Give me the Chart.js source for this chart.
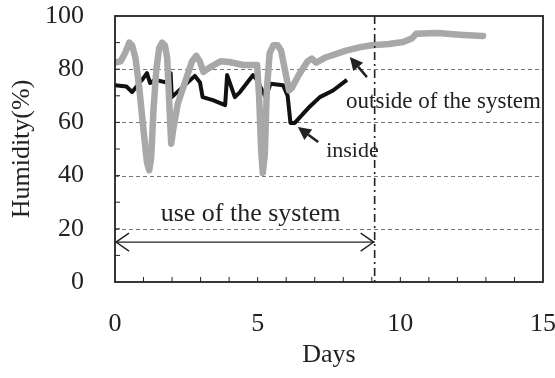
<!DOCTYPE html>
<html lang="en">
<head>
  <meta charset="UTF-8" />
  <title>Humidity</title>
  <script src="https://cdn.jsdelivr.net/npm/chart.js"></script>
  <style>
    html, body { margin: 0; padding: 0; background: #fff; }
  </style>
</head>
<body>
  <canvas id="humChart" width="555" height="378"></canvas>
  <script>
    // outside of the system (grey trace)
    const outsideDays = [0, 0.2, 0.35, 0.5, 0.6, 0.72, 0.85, 1.0, 1.12, 1.2, 1.27, 1.35, 1.45, 1.55, 1.65, 1.75,
      1.83, 1.9, 1.97, 2.05, 2.2, 2.45, 2.7, 2.85, 2.97, 3.1, 3.3, 3.7, 4.0, 4.5, 4.98, 5.05, 5.12, 5.18, 5.25,
      5.32, 5.42, 5.55, 5.7, 5.82, 5.95, 6.1, 6.2, 6.45, 6.75, 6.9, 7.05, 7.4, 8.1, 8.6, 9.0, 9.6, 10.1, 10.4,
      10.55, 11.3, 12.2, 12.9];
    const outsideHumidity = [82.5, 83, 86, 90, 89, 84, 73, 57, 45, 42, 47, 65, 80, 88, 90, 89,
      84, 68, 52, 58, 67, 75, 83, 85, 83, 79, 80.5, 83, 82.7, 81.6, 81.6, 70, 50, 41, 48,
      72, 86, 89, 89, 87, 80, 72, 73, 78, 83, 84, 82.5, 84.5, 87, 88.3, 89, 89.5, 90.2, 91.5,
      93.3, 93.6, 92.9, 92.5];

    // inside (black trace)
    const insideDays = [0, 0.4, 0.6, 0.95, 1.12, 1.23, 1.4, 1.89, 1.95, 1.99, 2.8, 2.98, 3.07, 3.43, 3.86, 3.93,
      4.2, 4.38, 4.84, 4.97, 5.28, 5.45, 5.89, 6.05, 6.15, 6.3, 6.83, 7.18, 7.64, 8.13];
    const insideHumidity = [74, 73.5, 71.4, 76, 78.5, 74.8, 76, 74.8, 78.5, 69.5, 77.5, 75, 69.5, 68.4, 66.5, 77.8,
      69.5, 71.4, 77.8, 76, 69.5, 74.5, 74, 70, 59.8, 59.8, 66, 69.5, 72, 76];

    const xTicks = [0, 5, 10, 15];
    const yTicks = [0, 20, 40, 60, 80, 100];
    const gridLevels = [20, 40, 60, 80];
    const systemEndDay = 9.1;
    const arrowLevel = 15;

    const toPoints = (xs, ys) => xs.map((x, i) => ({ x: x, y: ys[i] }));
    const serif = '"Liberation Serif", "DejaVu Serif", serif';

    function line(ctx, x1, y1, x2, y2) {
      ctx.beginPath();
      ctx.moveTo(x1, y1);
      ctx.lineTo(x2, y2);
      ctx.stroke();
    }

    function pointer(ctx, fx, fy, tx, ty) {
      // line with a filled triangular head at (tx, ty)
      const ang = Math.atan2(ty - fy, tx - fx);
      const len = 13, half = 6.5;
      const bx = tx - len * Math.cos(ang), by = ty - len * Math.sin(ang);
      ctx.lineWidth = 2.5;
      line(ctx, fx, fy, bx, by);
      ctx.beginPath();
      ctx.moveTo(tx, ty);
      ctx.lineTo(bx + half * Math.sin(ang), by - half * Math.cos(ang));
      ctx.lineTo(bx - half * Math.sin(ang), by + half * Math.cos(ang));
      ctx.closePath();
      ctx.fill();
    }

    const background = {
      id: 'background',
      beforeDatasetsDraw(chart) {
        const { ctx, chartArea: a, scales: { y } } = chart;
        ctx.save();
        ctx.strokeStyle = '#777';
        ctx.lineWidth = 1;
        ctx.setLineDash([4, 3]);
        gridLevels.forEach(v => {
          const py = Math.round(y.getPixelForValue(v)) + 0.5;
          line(ctx, a.left, py, a.right, py);
        });
        ctx.restore();
      }
    };

    const decorations = {
      id: 'decorations',
      afterDatasetsDraw(chart) {
        const { ctx, chartArea: a, scales: { x, y } } = chart;
        ctx.save();
        ctx.strokeStyle = '#222';
        ctx.fillStyle = '#222';

        // frame
        ctx.lineWidth = 1.8;
        ctx.strokeRect(a.left, a.top, a.right - a.left, a.bottom - a.top);

        // inward minor ticks
        ctx.lineWidth = 1;
        for (let d = 1; d < 15; d++) {
          const px = x.getPixelForValue(d);
          line(ctx, px, a.bottom, px, a.bottom - 5);
        }
        for (let v = 10; v < 100; v += 10) {
          const py = y.getPixelForValue(v);
          line(ctx, a.left, py, a.left + 5, py);
        }

        // end of system use (dash-dot)
        const ex = x.getPixelForValue(systemEndDay);
        ctx.lineWidth = 1.6;
        ctx.setLineDash([8, 4, 2, 4]);
        line(ctx, ex, a.top, ex, a.bottom);
        ctx.setLineDash([]);

        // double arrow for "use of the system"
        const ay = y.getPixelForValue(arrowLevel);
        const sx = x.getPixelForValue(0);
        ctx.lineWidth = 1.4;
        line(ctx, sx, ay, ex, ay);
        ctx.beginPath();
        ctx.moveTo(sx + 14, ay - 9); ctx.lineTo(sx + 1, ay); ctx.lineTo(sx + 14, ay + 9);
        ctx.moveTo(ex - 14, ay - 9); ctx.lineTo(ex - 1, ay); ctx.lineTo(ex - 14, ay + 9);
        ctx.stroke();

        // pointers
        pointer(ctx, x.getPixelForValue(8.83), y.getPixelForValue(77), x.getPixelForValue(8.23), y.getPixelForValue(84.6));
        pointer(ctx, x.getPixelForValue(7.12), y.getPixelForValue(52.6), x.getPixelForValue(6.41), y.getPixelForValue(58.3));

        // labels
        ctx.textBaseline = 'alphabetic';
        ctx.textAlign = 'left';
        ctx.font = '23px ' + serif;
        ctx.fillText('outside of the system', x.getPixelForValue(8.1), y.getPixelForValue(65.5));
        ctx.font = '22px ' + serif;
        ctx.fillText('inside', x.getPixelForValue(7.4), y.getPixelForValue(47));
        ctx.textAlign = 'center';
        ctx.font = '26px ' + serif;
        ctx.fillText('use of the system', x.getPixelForValue(4.75), y.getPixelForValue(23));
        ctx.restore();
      }
    };

    new Chart(document.getElementById('humChart'), {
      type: 'line',
      data: {
        datasets: [
          {
            label: 'outside of the system',
            data: toPoints(outsideDays, outsideHumidity),
            borderColor: '#a8a8a8',
            borderWidth: 6.5,
            borderJoinStyle: 'round',
            borderCapStyle: 'round',
            pointRadius: 0,
            tension: 0
          },
          {
            label: 'inside',
            data: toPoints(insideDays, insideHumidity),
            borderColor: '#111',
            borderWidth: 4,
            borderJoinStyle: 'round',
            pointRadius: 0,
            tension: 0
          }
        ]
      },
      options: {
        responsive: false,
        animation: false,
        layout: { padding: { top: 16, right: 12, left: 0, bottom: 0 } },
        plugins: {
          legend: { display: false },
          tooltip: { enabled: false }
        },
        scales: {
          x: {
            type: 'linear',
            min: 0,
            max: 15,
            afterBuildTicks: s => { s.ticks = xTicks.map(v => ({ value: v })); },
            afterFit: s => { s.height = 96; s.paddingLeft = 0; s.paddingRight = 0; },
            grid: { display: false },
            border: { display: false },
            ticks: { padding: 19, color: '#222', font: { family: serif, size: 26 } },
            title: { display: true, text: 'Days', color: '#222', padding: 7, font: { family: serif, size: 26 } }
          },
          y: {
            min: 0,
            max: 100,
            afterBuildTicks: s => { s.ticks = yTicks.map(v => ({ value: v })); },
            afterFit: s => { s.width = 115; s.paddingTop = 0; s.paddingBottom = 0; },
            grid: { display: false },
            border: { display: false },
            ticks: { padding: 23, color: '#222', font: { family: serif, size: 26 } },
            title: { display: true, text: 'Humidity(%)', color: '#222', padding: 7, font: { family: serif, size: 26 } }
          }
        }
      },
      plugins: [background, decorations]
    });
  </script>
</body>
</html>
